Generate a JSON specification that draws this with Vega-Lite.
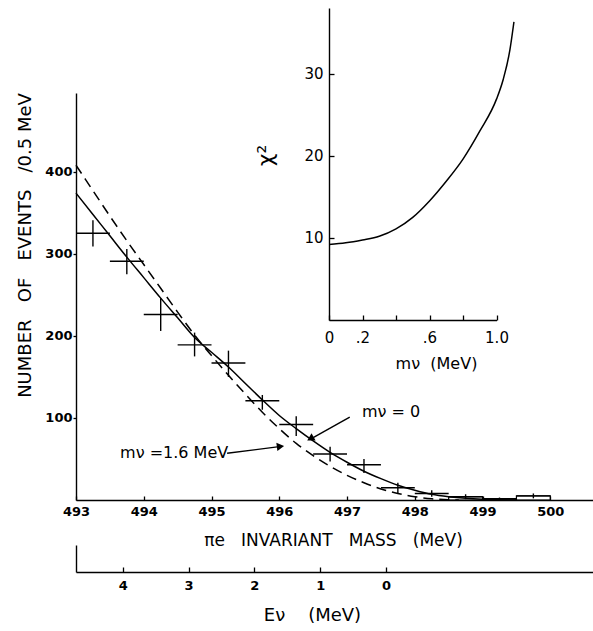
{
  "$schema": "https://vega.github.io/schema/vega-lite/v6.json",
  "width": 517,
  "height": 407,
  "autosize": {"type": "none"},
  "padding": {"left": 76, "top": 93, "right": 0, "bottom": 131},
  "background": "white",
  "config": {
    "view": {"stroke": null},
    "axis": {
      "grid": false,
      "domainColor": "black",
      "domainWidth": 1.4,
      "tickColor": "black",
      "tickWidth": 1.3,
      "labelColor": "black",
      "titleColor": "black",
      "labelFont": "DejaVu Sans",
      "titleFont": "DejaVu Sans",
      "titleFontWeight": "normal",
      "labelOverlap": false,
      "labelFlush": false,
      "labelBound": false
    },
    "text": {"font": "DejaVu Sans", "color": "black"}
  },
  "datasets": {
    "points": [
      {"m": 493.25, "lo": 493.0, "hi": 493.5, "n": 325, "nlo": 309, "nhi": 341},
      {"m": 493.75, "lo": 493.5, "hi": 494.0, "n": 291, "nlo": 275, "nhi": 306},
      {"m": 494.25, "lo": 494.0, "hi": 494.5, "n": 226, "nlo": 206, "nhi": 246},
      {"m": 494.75, "lo": 494.5, "hi": 495.0, "n": 189, "nlo": 175, "nhi": 204},
      {"m": 495.25, "lo": 495.0, "hi": 495.5, "n": 167, "nlo": 150, "nhi": 182},
      {"m": 495.75, "lo": 495.5, "hi": 496.0, "n": 121, "nlo": 110, "nhi": 128},
      {"m": 496.25, "lo": 496.0, "hi": 496.5, "n": 92, "nlo": 78, "nhi": 102},
      {"m": 496.75, "lo": 496.5, "hi": 497.0, "n": 56, "nlo": 47, "nhi": 65},
      {"m": 497.25, "lo": 497.0, "hi": 497.5, "n": 43, "nlo": 33, "nhi": 50},
      {"m": 497.75, "lo": 497.5, "hi": 498.0, "n": 15, "nlo": 8.5, "nhi": 21},
      {"m": 498.25, "lo": 498.0, "hi": 498.5, "n": 8, "nlo": 4, "nhi": 12},
      {"m": 498.75, "lo": 498.5, "hi": 499.0, "n": 4, "nlo": 1, "nhi": 7},
      {"m": 499.25, "lo": 499.0, "hi": 499.5, "n": 1.5, "nlo": 0, "nhi": 3},
      {"m": 499.75, "lo": 499.5, "hi": 500.0, "n": 5, "nlo": 2, "nhi": 8}
    ],
    "boxes": [
      {"lo": 498.5, "hi": 499.0, "n": 4},
      {"lo": 499.0, "hi": 499.5, "n": 1.5},
      {"lo": 499.5, "hi": 500.0, "n": 5}
    ],
    "solid": [
      {"m": 493.0, "n": 374}, {"m": 493.25, "n": 348}, {"m": 493.5, "n": 322}, {"m": 493.75, "n": 296},
      {"m": 494.0, "n": 271}, {"m": 494.25, "n": 246}, {"m": 494.5, "n": 222}, {"m": 494.75, "n": 198},
      {"m": 495.0, "n": 180}, {"m": 495.25, "n": 162}, {"m": 495.5, "n": 142}, {"m": 495.75, "n": 122},
      {"m": 496.0, "n": 103}, {"m": 496.25, "n": 87}, {"m": 496.5, "n": 72}, {"m": 496.75, "n": 58},
      {"m": 497.0, "n": 46}, {"m": 497.25, "n": 35}, {"m": 497.5, "n": 26}, {"m": 497.75, "n": 18},
      {"m": 498.0, "n": 12}, {"m": 498.25, "n": 7}, {"m": 498.5, "n": 4}, {"m": 498.75, "n": 2},
      {"m": 499.0, "n": 0.8}, {"m": 499.25, "n": 0.2}, {"m": 499.5, "n": 0}
    ],
    "dashed": [
      {"m": 493.0, "n": 408}, {"m": 493.25, "n": 377}, {"m": 493.5, "n": 346}, {"m": 493.75, "n": 316},
      {"m": 494.0, "n": 287}, {"m": 494.25, "n": 258}, {"m": 494.5, "n": 229}, {"m": 494.75, "n": 201},
      {"m": 495.0, "n": 176}, {"m": 495.25, "n": 152}, {"m": 495.5, "n": 129}, {"m": 495.75, "n": 107},
      {"m": 496.0, "n": 87}, {"m": 496.25, "n": 69}, {"m": 496.5, "n": 54}, {"m": 496.75, "n": 41},
      {"m": 497.0, "n": 30}, {"m": 497.25, "n": 21}, {"m": 497.5, "n": 13.5}, {"m": 497.75, "n": 8},
      {"m": 498.0, "n": 4}, {"m": 498.25, "n": 1.5}, {"m": 498.5, "n": 0.3}, {"m": 498.65, "n": 0}
    ],
    "labels": [
      {"x": 497.22, "y": 107, "label": "mν = 0"},
      {"x": 493.65, "y": 57, "label": "mν =1.6 MeV"}
    ],
    "arrows": [
      {"x1": 497.04, "y1": 101, "x2": 496.5, "y2": 76},
      {"x1": 495.23, "y1": 57, "x2": 496.0, "y2": 65}
    ],
    "heads": [
      {"x": 496.475, "y": 75.4, "angle": 241},
      {"x": 496.0, "y": 65, "angle": 83}
    ],
    "chi2": [
      {"mnu": 0, "chi2": 9.2}, {"mnu": 0.1, "chi2": 9.4}, {"mnu": 0.2, "chi2": 9.75}, {"mnu": 0.3, "chi2": 10.2},
      {"mnu": 0.4, "chi2": 11.1}, {"mnu": 0.5, "chi2": 12.5}, {"mnu": 0.6, "chi2": 14.5}, {"mnu": 0.7, "chi2": 16.9},
      {"mnu": 0.8, "chi2": 19.6}, {"mnu": 0.9, "chi2": 23.0}, {"mnu": 1.0, "chi2": 26.9}, {"mnu": 1.04, "chi2": 29.3},
      {"mnu": 1.08, "chi2": 32.9}, {"mnu": 1.104, "chi2": 36.3}
    ],
    "eaxis": [
      {"E": 0, "v": 0},
      {"E": 4, "v": 1}
    ]
  },
  "layer": [
    {
      "encoding": {
        "x": {
          "type": "quantitative",
          "scale": {"domain": [493, 500.63], "nice": false, "zero": false},
          "axis": {
            "values": [493, 494, 495, 496, 497, 498, 499, 500],
            "format": "d",
            "tickSize": -4,
            "labelPadding": 15,
            "labelBaseline": "middle",
            "labelFontSize": 13,
            "labelFontWeight": "bold",
            "title": "πe\u00a0\u00a0 INVARIANT\u00a0\u00a0 MASS\u00a0\u00a0 (MeV)",
            "titleFontSize": 17,
            "titleX": 257,
            "titleY": 40,
            "titleAlign": "center",
            "titleBaseline": "middle"
          }
        },
        "y": {
          "type": "quantitative",
          "scale": {"domain": [0, 496], "nice": false, "zero": false},
          "axis": {
            "values": [100, 200, 300, 400],
            "tickSize": 3,
            "labelPadding": 1,
            "labelFontSize": 13,
            "labelFontWeight": "bold",
            "title": "NUMBER\u00a0\u00a0 OF\u00a0\u00a0 EVENTS\u00a0\u00a0 /0.5\u00a0MeV",
            "titleFontSize": 18,
            "titleX": -51,
            "titleY": 152,
            "titleAngle": 270,
            "titleAlign": "center",
            "titleBaseline": "middle"
          }
        }
      },
      "layer": [
        {
          "data": {"name": "solid"},
          "mark": {"type": "line", "color": "black", "strokeWidth": 1.5, "interpolate": "monotone"},
          "encoding": {"x": {"field": "m"}, "y": {"field": "n"}}
        },
        {
          "data": {"name": "dashed"},
          "mark": {"type": "line", "color": "black", "strokeWidth": 1.5, "strokeDash": [10, 6], "interpolate": "monotone"},
          "encoding": {"x": {"field": "m"}, "y": {"field": "n"}}
        },
        {
          "data": {"name": "boxes"},
          "mark": {"type": "rect", "fill": null, "fillOpacity": 0, "stroke": "black", "strokeWidth": 1.2},
          "encoding": {"x": {"field": "lo"}, "x2": {"field": "hi"}, "y": {"field": "n"}, "y2": {"datum": 0}}
        },
        {
          "data": {"name": "points"},
          "mark": {"type": "rule", "color": "black", "strokeWidth": 1.4},
          "encoding": {"x": {"field": "lo"}, "x2": {"field": "hi"}, "y": {"field": "n"}}
        },
        {
          "data": {"name": "points"},
          "mark": {"type": "rule", "color": "black", "strokeWidth": 1.4},
          "encoding": {"x": {"field": "m"}, "y": {"field": "nlo"}, "y2": {"field": "nhi"}}
        },
        {
          "data": {"name": "arrows"},
          "mark": {"type": "rule", "color": "black", "strokeWidth": 1.4},
          "encoding": {"x": {"field": "x1"}, "y": {"field": "y1"}, "x2": {"field": "x2"}, "y2": {"field": "y2"}}
        },
        {
          "data": {"name": "heads"},
          "mark": {"type": "point", "shape": "triangle", "filled": true, "color": "black", "size": 70, "opacity": 1},
          "encoding": {"x": {"field": "x"}, "y": {"field": "y"}, "angle": {"field": "angle", "type": "quantitative", "scale": null}}
        },
        {
          "data": {"name": "labels"},
          "mark": {"type": "text", "align": "left", "baseline": "middle", "fontSize": 16},
          "encoding": {"x": {"field": "x"}, "y": {"field": "y"}, "text": {"field": "label"}}
        }
      ]
    },
    {
      "data": {"name": "chi2"},
      "mark": {"type": "line", "color": "black", "strokeWidth": 1.5, "interpolate": "monotone"},
      "encoding": {
        "x": {
          "field": "mnu",
          "type": "quantitative",
          "scale": {"domain": [0, 1], "range": [253, 420.5], "nice": false, "zero": false},
          "axis": {
            "orient": "bottom",
            "offset": -180,
            "values": [0, 0.2, 0.4, 0.6, 0.8, 1],
            "labelExpr": "datum.value == 0 ? '0' : datum.value == 0.2 ? '.2' : datum.value == 0.6 ? '.6' : datum.value == 1 ? '1.0' : ''",
            "tickSize": -5,
            "labelPadding": 22,
            "labelBaseline": "middle",
            "labelFontSize": 15,
            "title": "mν\u00a0\u00a0(MeV)",
            "titleFontSize": 16,
            "titleX": 360,
            "titleY": 43,
            "titleAlign": "center",
            "titleBaseline": "middle"
          }
        },
        "y": {
          "field": "chi2",
          "type": "quantitative",
          "scale": {"domain": [0, 38], "range": [227, -85], "nice": false, "zero": false},
          "axis": {
            "orient": "left",
            "offset": -253,
            "values": [10, 20, 30],
            "tickSize": -5,
            "labelPadding": 11,
            "labelFontSize": 15,
            "title": "χ²",
            "titleFontSize": 22,
            "titleX": -64,
            "titleY": 62,
            "titleAngle": 270,
            "titleAlign": "center",
            "titleBaseline": "middle"
          }
        }
      }
    },
    {
      "data": {"name": "eaxis"},
      "mark": {"type": "point", "opacity": 0},
      "encoding": {
        "x": {
          "field": "E",
          "type": "quantitative",
          "scale": {"domain": [-3.146, 4.711], "reverse": true, "nice": false, "zero": false},
          "axis": {
            "orient": "bottom",
            "offset": 72,
            "values": [0, 1, 2, 3, 4],
            "format": "d",
            "tickSize": -5,
            "labelPadding": 18,
            "labelBaseline": "middle",
            "labelFontSize": 13,
            "labelFontWeight": "bold",
            "title": "Eν\u00a0\u00a0\u00a0 (MeV)",
            "titleFontSize": 18,
            "titleX": 236,
            "titleY": 43,
            "titleAlign": "center",
            "titleBaseline": "middle"
          }
        },
        "y": {
          "field": "v",
          "type": "quantitative",
          "scale": {"domain": [0, 1], "range": [479, 452], "nice": false, "zero": false},
          "axis": {"orient": "left", "offset": 0, "ticks": false, "labels": false, "title": null}
        }
      }
    }
  ],
  "resolve": {
    "scale": {"x": "independent", "y": "independent"},
    "axis": {"x": "independent", "y": "independent"}
  }
}
